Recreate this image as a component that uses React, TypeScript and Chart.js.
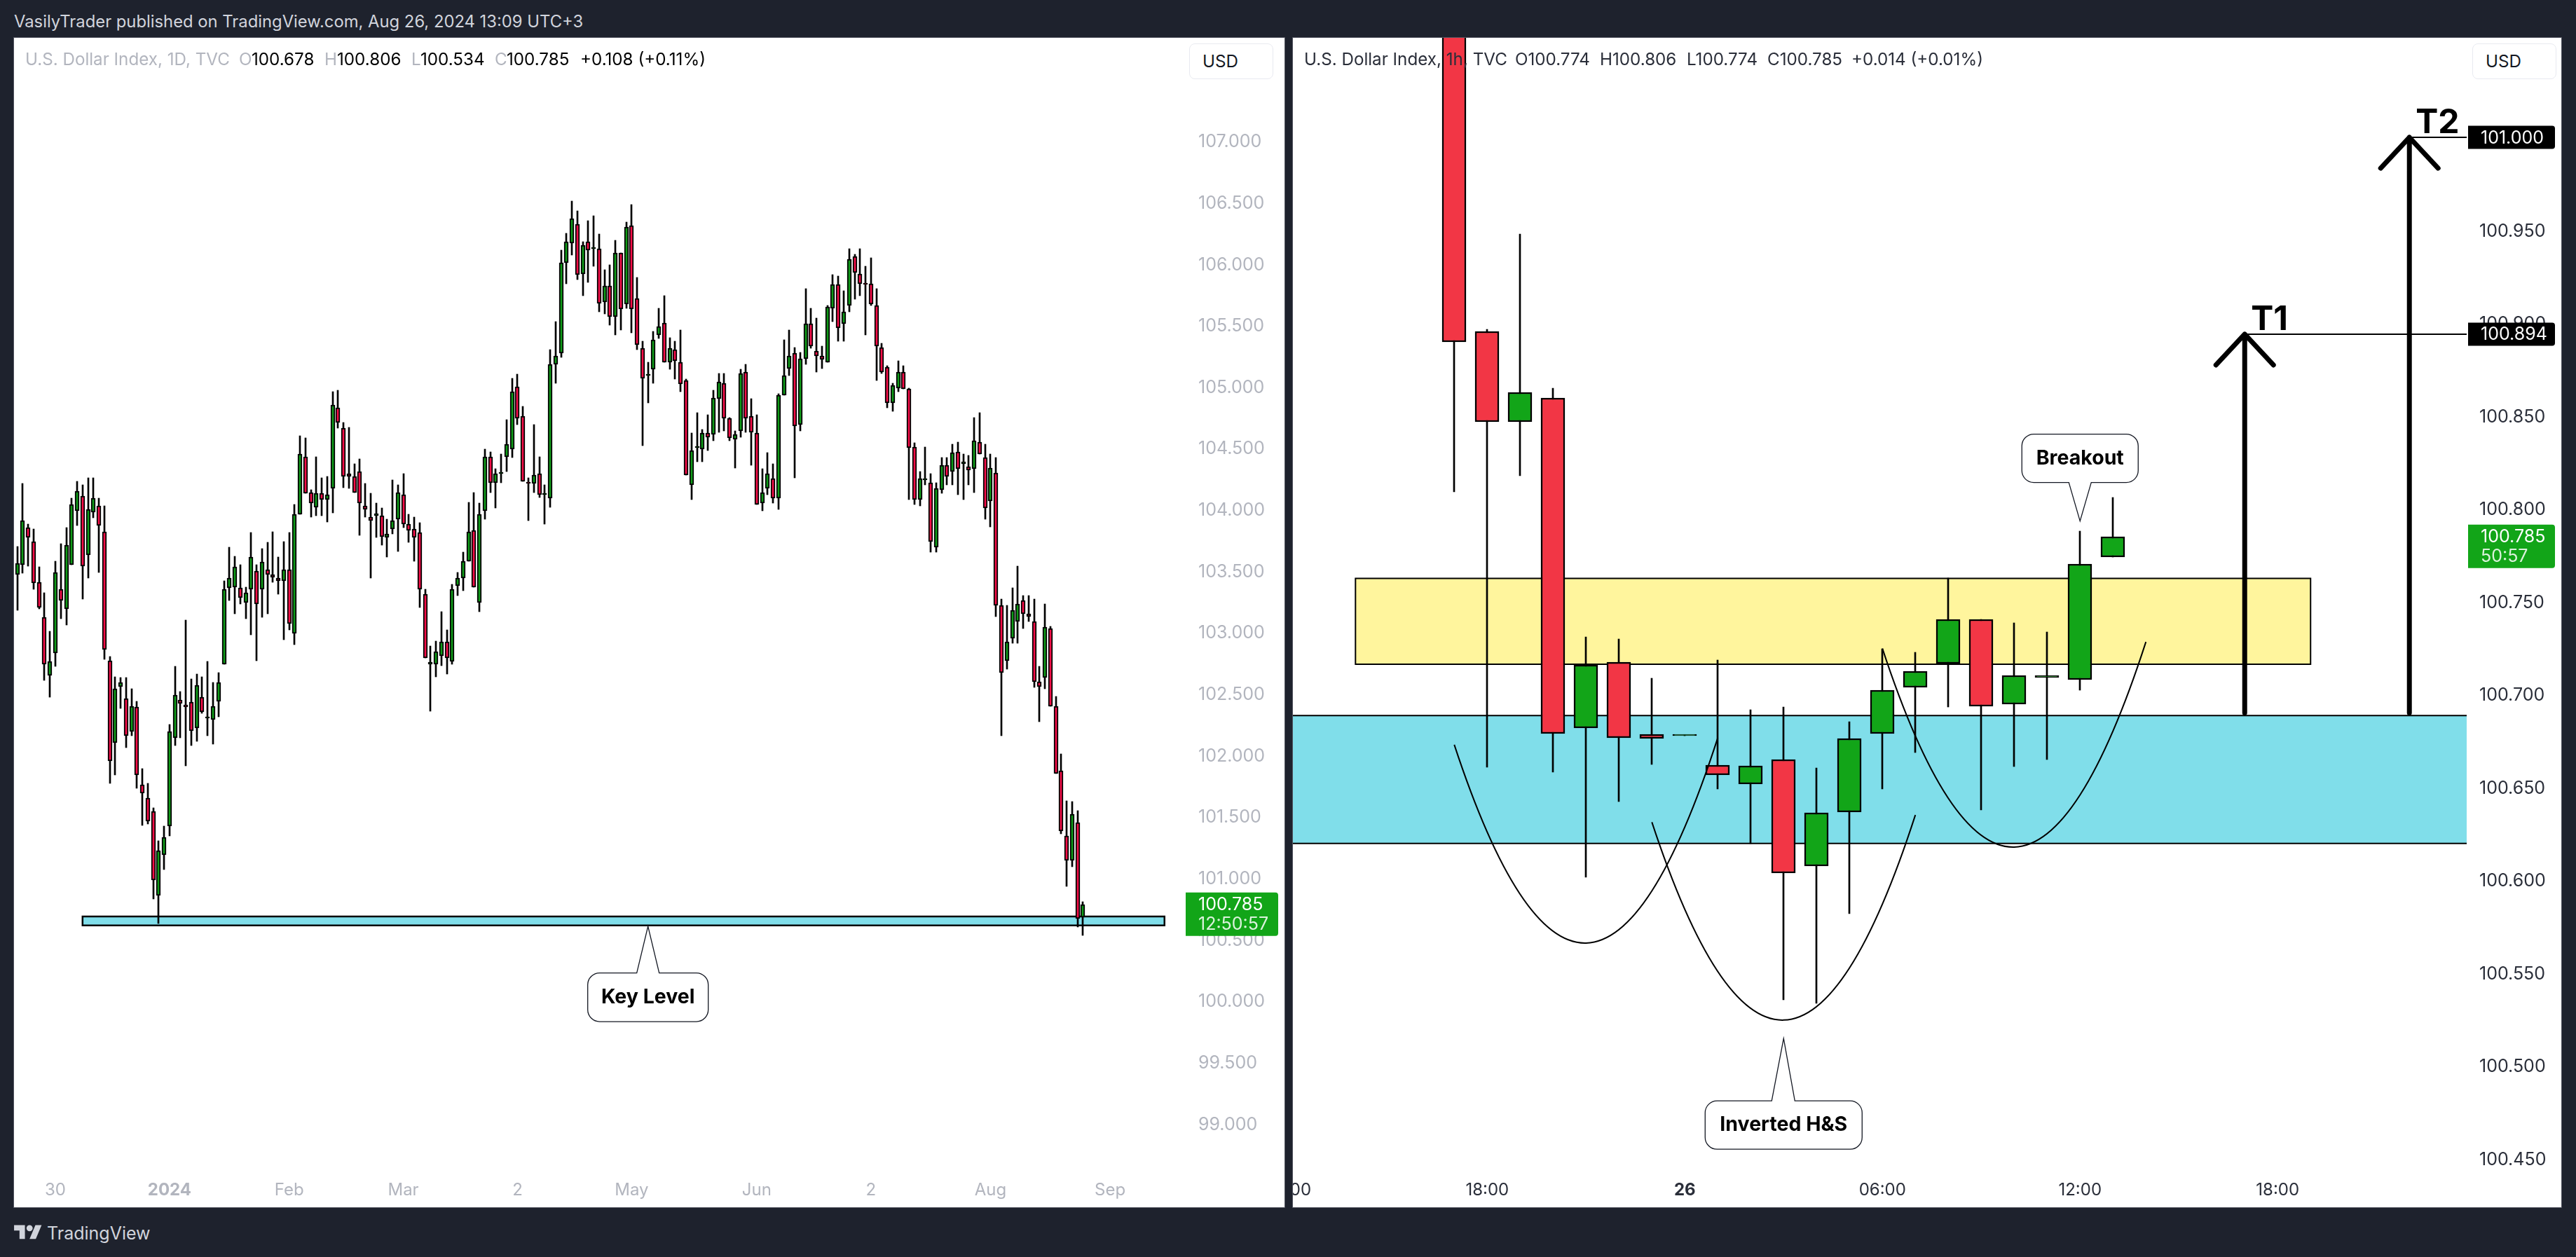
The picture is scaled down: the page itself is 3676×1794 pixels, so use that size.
import React, { useEffect, useRef } from "react";
import { Chart, registerables } from "chart.js";

Chart.register(...registerables);

const FONT = "Inter, 'Noto Sans', sans-serif";

// daily candles, U.S. Dollar Index
const dailyOpen = [
  103.47, 103.55, 103.85, 103.74, 103.41, 103.12, 102.65, 102.83, 103.35, 103.19,
  103.55, 103.99, 104.11, 103.63, 103.98, 104.03, 103.82, 102.77, 102.10, 102.56,
  102.46, 102.19, 102.39, 101.76, 101.65, 101.54, 100.86, 101.19, 101.42, 102.14,
  102.45, 102.41, 102.43, 102.22, 102.47, 102.30, 102.29, 102.44, 102.74, 103.36,
  103.37, 103.36, 103.24, 103.35, 103.50, 103.35, 103.51, 103.47, 103.44, 103.42,
  103.51, 102.99, 103.96, 104.43, 104.14, 104.02, 104.13, 104.08, 104.17, 104.83,
  104.66, 104.29, 104.27, 104.31, 104.03, 103.94, 103.95, 103.95, 103.77, 103.84,
  103.92, 104.12, 103.88, 103.84, 103.81, 103.31, 102.74, 102.74, 102.81, 102.92,
  102.76, 103.38, 103.44, 103.58, 103.83, 103.24, 103.99, 104.43, 104.22, 104.29,
  104.43, 104.49, 105.00, 104.76, 104.22, 104.21, 104.29, 104.12, 104.09, 105.18,
  105.27, 106.01, 106.17, 106.32, 105.92, 106.18, 106.12, 106.12, 105.69, 105.82,
  105.57, 106.09, 105.67, 106.31, 105.72, 105.31, 105.09, 105.14, 105.42, 105.52,
  105.20, 105.30, 105.20, 105.05, 104.20, 104.50, 104.49, 104.62, 104.61, 104.90,
  105.03, 104.74, 104.57, 104.64, 105.12, 104.76, 104.62, 104.05, 104.17, 104.25,
  104.09, 104.93, 105.15, 105.27, 104.69, 105.23, 105.51, 105.29, 105.25, 105.20,
  105.64, 105.83, 105.51, 105.66, 106.06, 105.92, 105.84, 105.84, 105.66, 105.32,
  105.16, 104.87, 104.99, 105.12, 104.98, 104.51, 104.08, 104.24, 104.22, 103.69,
  104.16, 104.36, 104.31, 104.47, 104.37, 104.35, 104.33, 104.55, 104.42, 104.07,
  104.30, 103.22, 102.77, 102.95, 103.09, 103.26, 103.15, 103.09, 102.60, 102.63,
  103.03, 102.40, 101.87, 101.34, 101.14, 101.45, 100.678,
];
const dailyHigh = [
  103.70, 104.21, 103.88, 103.84, 103.53, 103.32, 103.01, 103.58, 103.72, 103.85,
  104.09, 104.23, 104.20, 104.26, 104.26, 104.09, 104.03, 102.80, 102.64, 102.63,
  102.63, 102.54, 102.44, 101.89, 101.77, 101.57, 101.30, 101.42, 102.25, 102.72,
  102.52, 103.10, 102.62, 102.66, 102.64, 102.76, 102.59, 102.67, 103.42, 103.69,
  103.62, 103.55, 103.37, 103.81, 103.55, 103.68, 103.73, 103.82, 103.61, 103.74,
  103.81, 104.04, 104.60, 104.58, 104.16, 104.43, 104.26, 104.27, 104.96, 104.97,
  104.71, 104.67, 104.37, 104.41, 104.21, 104.13, 104.05, 104.01, 103.92, 104.24,
  104.20, 104.29, 103.96, 103.94, 103.89, 103.35, 102.89, 102.93, 103.17, 103.02,
  103.39, 103.49, 103.65, 104.06, 104.14, 104.05, 104.49, 104.47, 104.33, 104.45,
  104.73, 105.07, 105.10, 104.84, 104.26, 104.69, 104.43, 104.20, 105.30, 105.53,
  106.11, 106.25, 106.51, 106.43, 106.18, 106.35, 106.39, 106.24, 105.95, 105.99,
  106.19, 106.09, 106.34, 106.48, 105.89, 105.37, 105.20, 105.45, 105.64, 105.74,
  105.40, 105.37, 105.46, 105.06, 104.62, 104.79, 104.65, 104.77, 104.97, 105.11,
  105.11, 104.75, 104.64, 105.14, 105.18, 104.90, 104.77, 104.33, 104.46, 104.37,
  104.94, 105.38, 105.46, 105.32, 105.28, 105.80, 105.64, 105.56, 105.33, 105.66,
  105.91, 105.90, 105.78, 106.12, 106.08, 106.12, 105.98, 106.05, 105.80, 105.35,
  105.17, 105.03, 105.21, 105.17, 104.99, 104.54, 104.31, 104.51, 104.29, 104.22,
  104.42, 104.42, 104.53, 104.55, 104.45, 104.44, 104.75, 104.79, 104.53, 104.45,
  104.42, 103.27, 103.22, 103.36, 103.54, 103.30, 103.30, 103.27, 102.72, 103.23,
  103.05, 102.48, 102.01, 101.63, 101.62, 101.55, 100.806,
];
const dailyLow = [
  103.18, 103.48, 103.54, 103.35, 103.19, 102.61, 102.47, 102.72, 103.11, 103.06,
  103.55, 103.87, 103.27, 103.44, 103.93, 103.49, 102.78, 101.77, 101.84, 102.38,
  102.06, 102.16, 101.73, 101.43, 101.44, 100.83, 100.63, 101.07, 101.34, 102.08,
  102.14, 101.91, 102.08, 102.11, 102.34, 102.16, 102.09, 102.31, 102.74, 103.26,
  103.15, 103.23, 103.11, 102.98, 102.77, 103.12, 103.15, 103.41, 103.31, 102.94,
  103.02, 102.90, 103.96, 104.13, 103.94, 103.95, 103.95, 103.90, 103.97, 104.66,
  104.18, 104.17, 104.14, 103.79, 103.94, 103.44, 103.77, 103.71, 103.61, 103.80,
  103.66, 103.85, 103.73, 103.58, 103.20, 102.79, 102.36, 102.64, 102.73, 102.66,
  102.74, 103.30, 103.34, 103.58, 103.37, 103.17, 103.92, 104.14, 104.01, 104.22,
  104.31, 104.42, 104.69, 104.23, 103.91, 104.14, 104.10, 103.88, 104.02, 105.03,
  105.24, 105.84, 106.07, 105.87, 105.74, 105.85, 105.98, 105.61, 105.59, 105.50,
  105.42, 105.46, 105.64, 105.44, 105.30, 104.52, 104.87, 105.03, 105.39, 105.20,
  105.14, 105.06, 104.96, 104.28, 104.08, 104.39, 104.39, 104.48, 104.56, 104.63,
  104.64, 104.56, 104.34, 104.59, 104.63, 104.36, 104.04, 103.99, 104.12, 104.05,
  104.00, 104.93, 105.09, 104.26, 104.64, 105.18, 105.31, 105.12, 105.15, 105.20,
  105.53, 105.37, 105.37, 105.61, 105.71, 105.74, 105.42, 105.66, 105.05, 105.11,
  104.83, 104.80, 104.96, 104.98, 104.08, 104.04, 104.03, 104.20, 103.65, 103.65,
  104.13, 104.20, 104.20, 104.12, 104.08, 104.20, 104.14, 104.45, 103.92, 103.86,
  103.13, 102.16, 102.70, 102.91, 102.91, 103.03, 103.09, 102.55, 102.27, 102.54,
  102.40, 101.85, 101.36, 100.93, 101.09, 100.60, 100.534,
];
const dailyClose = [
  103.56, 103.91, 103.77, 103.40, 103.20, 102.74, 102.76, 103.49, 103.26, 103.71,
  104.04, 104.15, 103.54, 104.00, 104.09, 103.87, 102.86, 101.95, 102.54, 102.59,
  102.16, 102.40, 101.84, 101.69, 101.46, 100.98, 101.22, 101.33, 102.19, 102.49,
  102.42, 102.39, 102.20, 102.57, 102.35, 102.30, 102.40, 102.59, 103.35, 103.44,
  103.53, 103.28, 103.32, 103.61, 103.23, 103.57, 103.47, 103.45, 103.42, 103.51,
  103.07, 103.96, 104.45, 104.13, 104.05, 104.13, 104.08, 104.12, 104.85, 104.71,
  104.27, 104.27, 104.14, 104.05, 104.00, 103.91, 103.95, 103.78, 103.80, 103.91,
  104.14, 103.88, 103.83, 103.77, 103.35, 102.79, 102.74, 102.84, 102.92, 102.79,
  103.35, 103.44, 103.58, 103.82, 103.37, 103.96, 104.43, 104.22, 104.29, 104.29,
  104.53, 104.96, 104.74, 104.23, 104.21, 104.28, 104.12, 104.12, 105.18, 105.25,
  106.01, 106.18, 106.37, 105.91, 106.15, 106.11, 106.12, 105.68, 105.82, 105.57,
  106.09, 105.63, 106.30, 105.63, 105.34, 105.07, 105.09, 105.38, 105.49, 105.20,
  105.31, 105.21, 105.02, 104.28, 104.48, 104.50, 104.62, 104.59, 104.91, 105.04,
  104.74, 104.58, 104.61, 105.11, 104.74, 104.63, 104.04, 104.14, 104.29, 104.09,
  104.93, 105.09, 105.25, 104.68, 105.23, 105.51, 105.33, 105.25, 105.22, 105.65,
  105.83, 105.48, 105.61, 106.04, 105.93, 105.84, 105.83, 105.67, 105.33, 105.12,
  104.87, 105.01, 105.12, 104.98, 104.50, 104.08, 104.25, 104.24, 103.74, 104.17,
  104.36, 104.27, 104.46, 104.33, 104.39, 104.32, 104.56, 104.45, 104.01, 104.34,
  103.22, 102.67, 102.92, 103.18, 103.23, 103.15, 103.13, 102.60, 102.56, 103.04,
  102.40, 101.85, 101.38, 101.14, 101.52, 100.67, 100.785,
];

// hourly candles
const hourlyOpen = [
  101.12, 100.8956, 100.8468, 100.8598, 100.6819, 100.7175, 100.6786, 100.6777, 100.6621, 100.6517, 100.6651,
  100.6075, 100.6367, 100.6788, 100.7037, 100.7165, 100.7403, 100.6948, 100.7091, 100.708, 100.774,
];
const hourlyHigh = [
  101.15, 100.8968, 100.9478, 100.8649, 100.731, 100.7298, 100.7087, 100.6777, 100.7186, 100.6917, 100.6933,
  100.6606, 100.6855, 100.7245, 100.7226, 100.7626, 100.7403, 100.7386, 100.7338, 100.7878, 100.806,
];
const hourlyLow = [
  100.8092, 100.6609, 100.8179, 100.6581, 100.6017, 100.6423, 100.6623, 100.6777, 100.6491, 100.6196, 100.5356,
  100.5336, 100.5819, 100.6491, 100.6688, 100.6931, 100.6378, 100.661, 100.6651, 100.7022, 100.774,
];
const hourlyClose = [
  100.8898, 100.8468, 100.8626, 100.6789, 100.7158, 100.6766, 100.6764, 100.6777, 100.6567, 100.6615, 100.6038,
  100.6361, 100.6762, 100.7022, 100.7124, 100.7403, 100.6936, 100.7104, 100.7091, 100.7704, 100.785,
];

const dailyPriceTicks = [99, 99.5, 100, 100.5, 101, 101.5, 102, 102.5, 103, 103.5, 104, 104.5, 105, 105.5, 106, 106.5, 107];
const hourlyPriceTicks = [100.45, 100.5, 100.55, 100.6, 100.65, 100.7, 100.75, 100.8, 100.85, 100.9, 100.95];

const dailyTimeTicks: [number, string][] = [
  [7, "30"], [28, "2024"], [50, "Feb"], [71, "Mar"], [92, "2"], [113, "May"],
  [136, "Jun"], [157, "2"], [179, "Aug"], [201, "Sep"],
];
const hourlyTimeTicks: [number, string][] = [
  [-5, "12:00"], [1, "18:00"], [7, "26"], [13, "06:00"], [19, "12:00"], [25, "18:00"],
];

const RED = "#F23645";
const GREEN = "#12A518";
const CYAN = "#80DEEA";
const YELLOW = "#FFF59D";

type PaneSetup = {
  open: number[];
  high: number[];
  low: number[];
  close: number[];
  xMin: number;
  xMax: number;
  yMin: number;
  yMax: number;
  axisWidth: number;
  priceTicks: number[];
  timeTicks: [number, string][];
  bodyWidth: number;
  bodyBorder: number;
  wickWidth: number;
  upColor: string;
  downColor: string;
  tickColor: string;
  drawings: any;
};

function callout(
  ctx: CanvasRenderingContext2D,
  tipX: number,
  tipY: number,
  box: [number, number, number, number],
  base: [number, number],
  text: string
) {
  const [l, t, r, b] = box;
  const x0 = tipX + l;
  const x1 = tipX + r;
  const y0 = tipY + t;
  const y1 = tipY + b;
  const rad = 17;
  const below = t < 0;
  ctx.beginPath();
  ctx.moveTo(x0 + rad, y0);
  if (!below) {
    ctx.lineTo(tipX + base[0], y0);
    ctx.lineTo(tipX, tipY);
    ctx.lineTo(tipX + base[1], y0);
  }
  ctx.arcTo(x1, y0, x1, y1, rad);
  ctx.arcTo(x1, y1, x0, y1, rad);
  if (below) {
    ctx.lineTo(tipX + base[1], y1);
    ctx.lineTo(tipX, tipY);
    ctx.lineTo(tipX + base[0], y1);
  }
  ctx.arcTo(x0, y1, x0, y0, rad);
  ctx.arcTo(x0, y0, x1, y0, rad);
  ctx.closePath();
  ctx.fillStyle = "#fff";
  ctx.fill();
  ctx.strokeStyle = "#131722";
  ctx.lineWidth = 1.3;
  ctx.stroke();
  ctx.fillStyle = "#000";
  ctx.font = `700 28.5px ${FONT}`;
  ctx.textAlign = "center";
  ctx.textBaseline = "middle";
  ctx.fillText(text, tipX + (l + r) / 2, tipY + (t + b) / 2);
}

function priceTag(
  chart: Chart,
  value: number,
  text: string,
  fill: string,
  gap: number,
  width: number,
  above: number,
  below: number,
  second?: string
) {
  const { ctx, chartArea, scales } = chart;
  const y = scales.y.getPixelForValue(value);
  const x = chartArea.right + gap;
  ctx.fillStyle = fill;
  ctx.beginPath();
  (ctx as any).roundRect(x, y - above, width, above + below, [0, 4, 4, 0]);
  ctx.fill();
  ctx.font = `25px ${FONT}`;
  ctx.textAlign = "left";
  ctx.textBaseline = "middle";
  ctx.fillStyle = "#fff";
  ctx.fillText(text, x + 18, y + 1);
  if (second) {
    ctx.globalAlpha = 0.85;
    ctx.fillText(second, x + 18, y + 29);
    ctx.globalAlpha = 1;
  }
}

function zone(chart: Chart, x0: number, x1: number, top: number, bottom: number, fill: string, sides: boolean, line = 2) {
  const { ctx, scales } = chart;
  const l = scales.x.getPixelForValue(x0);
  const r = scales.x.getPixelForValue(x1);
  const t = scales.y.getPixelForValue(top);
  const b = scales.y.getPixelForValue(bottom);
  ctx.fillStyle = fill;
  ctx.fillRect(l, t, r - l, b - t);
  ctx.strokeStyle = "#000";
  ctx.lineWidth = line;
  ctx.beginPath();
  if (sides) {
    ctx.rect(l, t, r - l, b - t);
  } else {
    ctx.moveTo(l, t);
    ctx.lineTo(r, t);
    ctx.moveTo(l, b);
    ctx.lineTo(r, b);
  }
  ctx.stroke();
}

function arc(chart: Chart, pts: [number, number][]) {
  const { ctx, scales } = chart;
  const p = pts.map(([a, b]) => [scales.x.getPixelForValue(a), scales.y.getPixelForValue(b)]);
  ctx.strokeStyle = "#000";
  ctx.lineWidth = 2;
  ctx.beginPath();
  ctx.moveTo(p[0][0], p[0][1]);
  ctx.quadraticCurveTo(p[1][0], p[1][1], p[2][0], p[2][1]);
  ctx.stroke();
}

function target(chart: Chart, x: number, base: number, tip: number, name: string) {
  const { ctx, scales, chartArea } = chart;
  const px = scales.x.getPixelForValue(x);
  const top = scales.y.getPixelForValue(tip);
  const bottom = scales.y.getPixelForValue(base);
  ctx.strokeStyle = "#000";
  ctx.lineWidth = 2;
  ctx.beginPath();
  ctx.moveTo(px, top);
  ctx.lineTo(chartArea.right, top);
  ctx.stroke();
  ctx.lineWidth = 7;
  ctx.lineCap = "round";
  ctx.lineJoin = "round";
  ctx.beginPath();
  ctx.moveTo(px, bottom);
  ctx.lineTo(px, top);
  ctx.moveTo(px - 41, top + 44);
  ctx.lineTo(px, top);
  ctx.lineTo(px + 41, top + 44);
  ctx.stroke();
  ctx.lineCap = "butt";
  ctx.lineJoin = "miter";
  ctx.fillStyle = "#000";
  ctx.font = `700 48px ${FONT}`;
  ctx.textAlign = "left";
  ctx.textBaseline = "middle";
  ctx.fillText(name, px + 9, top - 20);
}

const dailyDrawings = {
  under(chart: Chart) {
    zone(chart, 12, 211, 100.686, 100.614, CYAN, true, 2.5);
  },
  over() {},
  top(chart: Chart) {
    const { scales, ctx } = chart;
    callout(ctx, scales.x.getPixelForValue(116), scales.y.getPixelForValue(100.606), [-86, 66.5, 86, 136], [-16, 16], "Key Level");
    priceTag(chart, 100.785, "100.785", GREEN, 0, 132, 17, 45, "12:50:57");
  },
};

const hourlyDrawings = {
  under(chart: Chart) {
    const { scales } = chart;
    zone(chart, scales.x.min, scales.x.max, 100.6886, 100.6198, CYAN, false);
    zone(chart, -3, 26, 100.7625, 100.7163, YELLOW, true);
  },
  over(chart: Chart) {
    arc(chart, [[0, 100.6729], [4, 100.4575], [8, 100.6766]]);
    arc(chart, [[6, 100.6312], [10, 100.4161], [14, 100.6351]]);
    arc(chart, [[13, 100.7247], [17, 100.5091], [21, 100.7283]]);
    target(chart, 24, 100.69, 100.894, "T1");
    target(chart, 29, 100.69, 101, "T2");
  },
  top(chart: Chart) {
    const { scales, ctx } = chart;
    callout(ctx, scales.x.getPixelForValue(19), scales.y.getPixelForValue(100.7934), [-83, -124, 83, -55], [-16, 16], "Breakout");
    callout(ctx, scales.x.getPixelForValue(10), scales.y.getPixelForValue(100.5147), [-112, 89, 112, 158], [-17, 16], "Inverted H&S");
    priceTag(chart, 101, "101.000", "#000", 2, 124, 16.5, 16.5);
    priceTag(chart, 100.894, "100.894", "#000", 2, 124, 16.5, 16.5);
    priceTag(chart, 100.785, "100.785", GREEN, 2, 124, 17, 45, "50:57");
  },
};

function makePane(canvas: HTMLCanvasElement, s: PaneSetup) {
  const drawingsPlugin = {
    id: "drawings",
    beforeDatasetsDraw: (chart: Chart) => {
      // keep the candles on whole pixels so they stay crisp
      chart.data.datasets.forEach((_, d) => {
        chart.getDatasetMeta(d).data.forEach((el: any) => {
          el.x = Math.round(el.x);
          el.y = Math.round(el.y);
          el.base = Math.round(el.base);
        });
      });
      s.drawings.under(chart);
    },
    afterDatasetsDraw: (chart: Chart) => s.drawings.over(chart),
    afterDraw: (chart: Chart) => s.drawings.top(chart),
  };
  return new Chart(canvas, {
    type: "bar",
    plugins: [drawingsPlugin],
    data: {
      datasets: [
        {
          label: "Wick",
          data: s.high.map((h, i) => ({ x: i, y: [s.low[i], h] })) as any,
          backgroundColor: "#000",
          barThickness: s.wickWidth,
          grouped: false,
          minBarLength: 1,
          order: 2,
        },
        {
          label: "Body",
          data: s.open.map((o, i) => ({ x: i, y: [o, s.close[i]] })) as any,
          backgroundColor: s.open.map((o, i) => (s.close[i] >= o ? s.upColor : s.downColor)),
          borderColor: "#000",
          borderWidth: s.bodyBorder,
          borderSkipped: false,
          barThickness: s.bodyWidth,
          grouped: false,
          minBarLength: 2.5,
          order: 1,
        },
      ],
    },
    options: {
      responsive: false,
      animation: false,
      devicePixelRatio: 1,
      layout: { padding: 0 },
      events: [],
      plugins: { legend: { display: false }, tooltip: { enabled: false } },
      scales: {
        x: {
          type: "linear",
          offset: false,
          min: s.xMin,
          max: s.xMax,
          grid: { display: false, drawTicks: false },
          border: { display: false },
          afterBuildTicks: (axis: any) => {
            axis.ticks = s.timeTicks.map(([value]) => ({ value }));
          },
          afterFit: (axis: any) => {
            axis.height = 63;
            axis.paddingLeft = 0;
            axis.paddingRight = 0;
          },
          ticks: {
            autoSkip: false,
            maxRotation: 0,
            padding: 24,
            color: s.tickColor,
            callback: (v: any) => s.timeTicks.find(([i]) => i === v)?.[1] ?? "",
            font: (c: any) => {
              const label = c.tick?.label;
              return { family: FONT, size: 24, weight: label === "2024" || label === "26" ? 700 : 400 };
            },
          },
        },
        y: {
          position: "right",
          beginAtZero: false,
          min: s.yMin,
          max: s.yMax,
          grid: { display: false, drawTicks: false },
          border: { display: false },
          afterBuildTicks: (axis: any) => {
            axis.ticks = s.priceTicks.map((value) => ({ value }));
          },
          afterFit: (axis: any) => {
            axis.width = s.axisWidth;
            axis.paddingTop = 0;
            axis.paddingBottom = 0;
          },
          ticks: {
            autoSkip: false,
            padding: 18,
            labelOffset: 1.5,
            color: s.tickColor,
            font: { family: FONT, size: 25 },
            callback: (v: any) => Number(v).toFixed(3),
          },
        },
      },
    } as any,
  });
}

function Text({ x, y, color, size = 24.2, weight = 400, children }: any) {
  return (
    <span
      style={{
        position: "absolute",
        left: x,
        top: y,
        transform: "translateY(-50%)",
        color,
        fontSize: size,
        fontWeight: weight,
        fontFamily: FONT,
        whiteSpace: "nowrap",
        lineHeight: 1,
      }}
    >
      {children}
    </span>
  );
}

const paneStyle = (left: number, width: number): React.CSSProperties => ({
  position: "absolute",
  left,
  top: 54,
  width,
  height: 1669,
  background: "#fff",
  boxShadow: "0 0 0 1px #50535e",
  overflow: "hidden",
});

function UsdButton({ left }: { left: number }) {
  return (
    <div
      style={{
        position: "absolute",
        left,
        top: 62,
        width: 120,
        height: 51,
        boxSizing: "border-box",
        border: "1px solid #e8eaf0",
        borderRadius: 8,
        background: "#fff",
      }}
    >
      <Text x={18} y={25} color="#131722">USD</Text>
    </div>
  );
}

export default function App() {
  const dailyRef = useRef<HTMLCanvasElement | null>(null);
  const hourlyRef = useRef<HTMLCanvasElement | null>(null);

  useEffect(() => {
    const daily = makePane(dailyRef.current!, {
      open: dailyOpen,
      high: dailyHigh,
      low: dailyLow,
      close: dailyClose,
      xMin: -0.606,
      xMax: 214.9,
      yMin: 98.678,
      yMax: 107.84,
      axisWidth: 141,
      priceTicks: dailyPriceTicks,
      timeTicks: dailyTimeTicks,
      bodyWidth: 6,
      bodyBorder: 2,
      wickWidth: 2,
      upColor: "#0F9A18",
      downColor: "#F40D48",
      tickColor: "#b2b5be",
      drawings: dailyDrawings,
    });
    const hourly = makePane(hourlyRef.current!, {
      open: hourlyOpen,
      high: hourlyHigh,
      low: hourlyLow,
      close: hourlyClose,
      xMin: -4.9,
      xMax: 30.74,
      yMin: 100.4476,
      yMax: 101.0536,
      axisWidth: 135,
      priceTicks: hourlyPriceTicks,
      timeTicks: hourlyTimeTicks,
      bodyWidth: 34,
      bodyBorder: 2.5,
      wickWidth: 2,
      upColor: GREEN,
      downColor: RED,
      tickColor: "#2a2e39",
      drawings: hourlyDrawings,
    });
    return () => {
      daily.destroy();
      hourly.destroy();
    };
  }, []);

  return (
    <div style={{ position: "absolute", left: 0, top: 0, width: 3676, height: 1794, background: "#1E222D", overflow: "hidden" }}>
      <Text x={20} y={31} color="#d1d4dc" size={23.8}>
        VasilyTrader published on TradingView.com, Aug 26, 2024 13:09 UTC+3
      </Text>

      <div style={paneStyle(20, 1813)}>
        <canvas ref={dailyRef} width={1813} height={1669} style={{ display: "block" }} />
      </div>
      <div style={paneStyle(1845, 1810)}>
        <canvas ref={hourlyRef} width={1810} height={1669} style={{ display: "block" }} />
      </div>

      <Text x={36} y={85} color="#b2b5be">U.S. Dollar Index, 1D, TVC</Text>
      <Text x={341} y={85} color="#b2b5be">O</Text>
      <Text x={359} y={85} color="#000">100.678</Text>
      <Text x={463} y={85} color="#b2b5be">H</Text>
      <Text x={481} y={85} color="#000">100.806</Text>
      <Text x={587} y={85} color="#b2b5be">L</Text>
      <Text x={600} y={85} color="#000">100.534</Text>
      <Text x={706} y={85} color="#b2b5be">C</Text>
      <Text x={723} y={85} color="#000">100.785</Text>
      <Text x={828} y={85} color="#000">+0.108 (+0.11%)</Text>

      <Text x={1861} y={85} color="#2a2e39">U.S. Dollar Index, 1h, TVC</Text>
      <Text x={2162} y={85} color="#2a2e39">O100.774</Text>
      <Text x={2283} y={85} color="#2a2e39">H100.806</Text>
      <Text x={2407} y={85} color="#2a2e39">L100.774</Text>
      <Text x={2522} y={85} color="#2a2e39">C100.785</Text>
      <Text x={2642} y={85} color="#2a2e39">+0.014 (+0.01%)</Text>

      <UsdButton left={1697} />
      <UsdButton left={3528} />

      <svg style={{ position: "absolute", left: 20, top: 1744 }} width={40} height={31} viewBox="0 0 36 28" fill="#d1d4dc">
        <path d="M14 22H7V11H0V4h14v18zM28 22h-8l7.5-18h8L28 22z" />
        <circle cx="20" cy="8" r="4" />
      </svg>
      <Text x={67} y={1760} color="#d1d4dc" size={25}>TradingView</Text>
    </div>
  );
}
